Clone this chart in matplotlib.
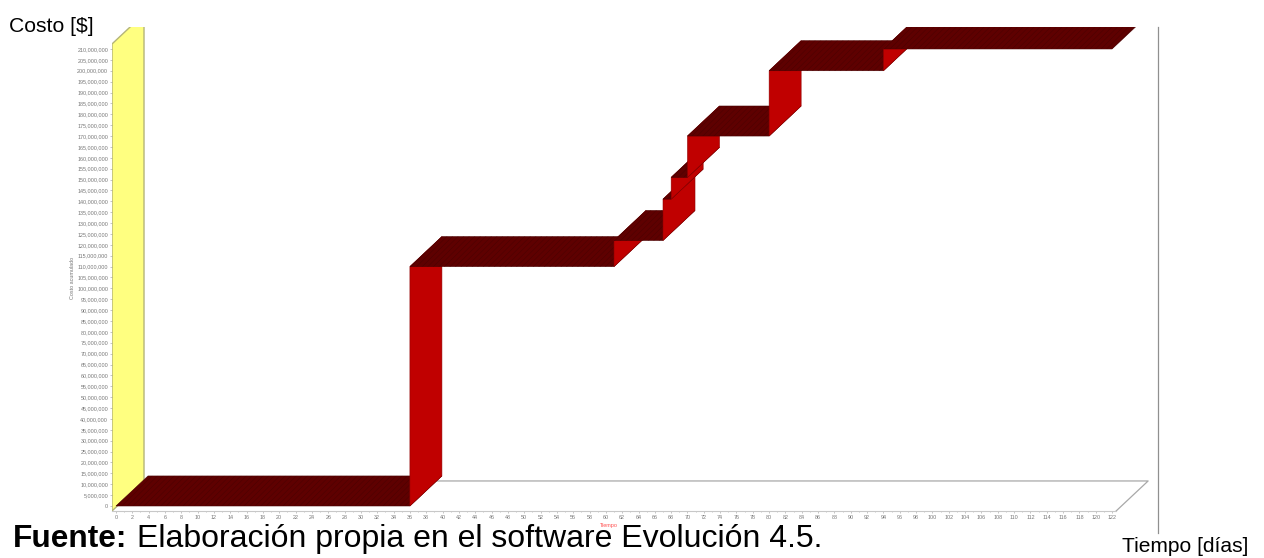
import matplotlib
matplotlib.use('Agg')
import matplotlib.pyplot as plt
from matplotlib.patches import Polygon
from matplotlib.ticker import FuncFormatter

plt.rcParams['font.family'] = ['Liberation Sans', 'DejaVu Sans']
plt.rcParams['hatch.linewidth'] = 0.35

# curva de costo acumulado: cada tramo empieza en step_days[i] con step_costs[i]
step_days = [0, 36, 61, 67, 68, 70, 80, 94]
step_costs = [0, 110e6, 122e6, 141e6, 151e6, 170e6, 200e6, 210e6]
last_day = 122

x_ticks = list(range(0, 123, 2))
y_ticks = list(range(0, 210000001, 5000000))

W, H = 1264, 558
DEPTH_X = 3.92      # profundidad 3D en dias
DEPTH_Y = 13.8e6    # profundidad 3D en costo
DARK = '#5e0000'
RED = '#c00000'
GREY = '#a8a8a8'


def px_text(x, y, s, **kw):
    return fig.text(x / W, 1 - y / H, s, **kw)


fig = plt.figure(figsize=(W / 100, H / 100), dpi=100)
ax = fig.add_axes([112 / W, 1 - 511 / H, (1150 - 112) / W, (511 - 27) / H])
ax.set_xlim(-0.49, 126.65)
ax.set_ylim(-2.3e6, 220.1e6)
ax.patch.set_visible(False)
for side in ['top', 'right', 'left']:
    ax.spines[side].set_visible(False)
ax.spines['bottom'].set_color('#c8c8c8')
ax.spines['bottom'].set_linewidth(0.8)
ax.spines['bottom'].set_bounds(-0.49, last_day + 0.5)

ax.set_xticks(x_ticks)
ax.set_yticks(y_ticks)
ax.set_xticks(range(0, 123), minor=True)
ax.yaxis.set_major_formatter(FuncFormatter(lambda v, _: f'{int(v):,}'))
ax.tick_params(axis='both', which='major', labelsize=3.9, length=1.5, width=0.4,
               color='#999999', labelcolor='#777777', pad=1.2)
ax.tick_params(axis='x', which='minor', length=1, width=0.4, color='#999999')

# pared amarilla
x0, y0 = -0.49, -2.3e6
wall_top = 212.3e6
ax.add_patch(Polygon([(x0, y0), (x0 + DEPTH_X, y0 + DEPTH_Y), (x0 + DEPTH_X, wall_top + DEPTH_Y), (x0, wall_top)],
                     closed=True, facecolor='#ffff80', edgecolor='#b4b478', linewidth=1.0, zorder=1))

# piso
ax.plot([x0 + DEPTH_X, last_day + 0.5 + DEPTH_X, last_day + 0.5],
        [y0 + DEPTH_Y, y0 + DEPTH_Y, y0], color=GREY, linewidth=0.9, zorder=1)

# cinta escalonada
for i, (day, cost) in enumerate(zip(step_days, step_costs)):
    next_day = step_days[i + 1] if i + 1 < len(step_days) else last_day
    if i > 0:
        prev = step_costs[i - 1]
        ax.add_patch(Polygon([(day, prev), (day + DEPTH_X, prev + DEPTH_Y),
                              (day + DEPTH_X, cost + DEPTH_Y), (day, cost)],
                             closed=True, facecolor=RED, edgecolor='#900000', linewidth=0.4, zorder=2 + i))
    ax.add_patch(Polygon([(day, cost), (day + DEPTH_X, cost + DEPTH_Y),
                          (next_day + DEPTH_X, cost + DEPTH_Y), (next_day, cost)],
                         closed=True, facecolor=DARK, edgecolor='#4a0000', hatch='//////',
                         linewidth=0.4, zorder=2 + i))

# linea vertical derecha
fig.add_artist(plt.Line2D([1158 / W, 1158 / W], [1 - 27 / H, 1 - 533 / H], color='#909090', linewidth=0.9))

px_text(73, 278, 'Costo acumulado', fontsize=3.9, color='#777777', rotation=90, ha='center', va='center')
px_text(609, 525, 'Tiempo', fontsize=4, color='#ff5050', ha='center', va='center')
px_text(9, 27, 'Costo [$]', fontsize=15.2, color='black', ha='left', va='center')
px_text(1122, 546, 'Tiempo [días]', fontsize=15.1, color='black', ha='left', va='center')
px_text(13, 539, 'Fuente:', fontsize=22.8, fontweight='bold', color='black', ha='left', va='center')
px_text(137, 539, 'Elaboración propia en el software Evolución 4.5.', fontsize=23, color='black',
        ha='left', va='center')

fig.savefig('out.png', dpi=100)
plt.close(fig)
